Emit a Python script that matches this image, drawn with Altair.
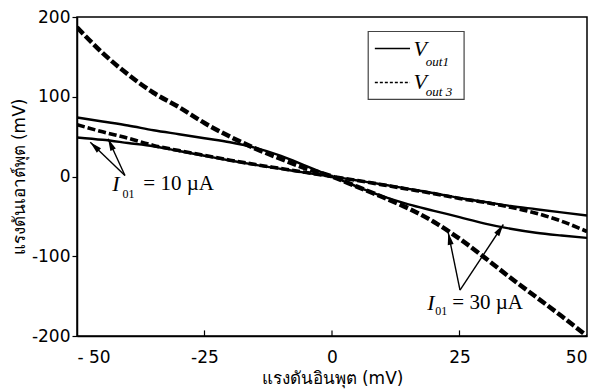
import math
import altair as alt
import pandas as pd

# ---- data ----
vin = [-50, -45, -40, -35, -30, -25, -20, -15, -10, -5, 0, 5, 10, 15, 20, 25, 30, 35, 40, 45, 50]
vout1_10 = [49, 46, 42, 38, 32, 26, 20, 14.5, 9.5, 4.5, 0, -5, -10, -15.5, -21, -27, -32, -37, -41, -45, -49]
vout3_10 = [65, 56, 48, 39, 32.5, 26.5, 20.5, 15, 10, 5, 0, -5, -10.5, -16, -21.5, -27.5, -32.5, -38.5, -46, -56, -69]
vout1_30 = [74, 69, 64, 58, 53, 48, 43, 36, 26, 13, 0, -13, -25, -35, -43, -51, -59, -65.5, -70.5, -74, -77]
vout3_30 = [187, 155, 128, 105, 87, 67, 50, 35, 22, 10, 0, -13, -26, -40, -57, -78, -102, -127, -151, -175, -200]

x_ticks = [-50, -25, 0, 25, 50]
y_ticks = [-200, -100, 0, 100, 200]
x_title = "แรงดันอินพุต (mV)"
y_title = "แรงดันเอาต์พุต (mV)"

# annotation anchors (data units)
arrow_apex_10 = (-40.6, 1.2)
arrow_tips_10 = [(-47.4, 43.0), (-43.9, 47.3)]
arrow_apex_30 = (25.1, -142.6)
arrow_tips_30 = [(22.8, -70.6), (33.6, -60.2)]

W, H = 510, 319
XD, YD = [-50, 50], [-200, 200]
px_x = W / (XD[1] - XD[0])
px_y = H / (YD[1] - YD[0])

rows = []
for name, ys in [("v1_10", vout1_10), ("v3_10", vout3_10), ("v1_30", vout1_30), ("v3_30", vout3_30)]:
    for xv, yv in zip(vin, ys):
        rows.append({"x": xv, "y": yv, "s": name})
df = pd.DataFrame(rows)

FONT = "DejaVu Sans"
xs = alt.Scale(domain=XD, nice=False, zero=False)
ys_ = alt.Scale(domain=YD, nice=False, zero=False)
xaxis = alt.Axis(values=x_ticks, title=x_title, grid=False, ticks=False, labelPadding=13,
                 labelFlush=True,
                 labelExpr="datum.value == -50 ? '- 50' : replace(datum.label, '\u2212', '-')",
                 labelFont=FONT, labelFontSize=17, labelColor="black",
                 titleFont=FONT, titleFontSize=17, titleColor="black", titleFontWeight="normal",
                 domainColor="black", domainWidth=1.5,
                 titleY=42, titleBaseline="middle")
yaxis = alt.Axis(values=y_ticks, title=y_title, grid=False, tickSize=5, labelPadding=2,
                 tickColor="black", tickWidth=1.2,
                 labelExpr="replace(datum.label, '\u2212', '-')",
                 labelFont=FONT, labelFontSize=17, labelColor="black",
                 titleFont=FONT, titleFontSize=17, titleColor="black", titleFontWeight="normal",
                 domainColor="black", domainWidth=1.5,
                 titleX=-58, titleBaseline="middle")
X = alt.X("x:Q", scale=xs, axis=xaxis)
Y = alt.Y("y:Q", scale=ys_, axis=yaxis)

base = alt.Chart(df)


def line(series, width, dash=None):
    kw = dict(color="black", strokeWidth=width, clip=True, interpolate="monotone")
    if dash:
        kw["strokeDash"] = dash
    return base.transform_filter(alt.datum.s == series).mark_line(**kw).encode(x=X, y=Y)


layers = [
    line("v1_10", 2.4),
    line("v3_10", 3.6, [8, 3]),
    line("v1_30", 2.4),
    line("v3_30", 4.5, [9, 3]),
]

# inside x ticks
tick_df = pd.DataFrame({"x": [-25, 0, 25], "y": [-200] * 3, "y2": [-193] * 3})
layers.append(alt.Chart(tick_df).mark_rule(color="black", strokeWidth=1.2).encode(
    x=X, y=Y, y2="y2:Q"))

# arrows
shaft_rows, head_rows = [], []
for apex, tips in [(arrow_apex_10, arrow_tips_10), (arrow_apex_30, arrow_tips_30)]:
    for tip in tips:
        shaft_rows.append({"x": apex[0], "y": apex[1], "x2": tip[0], "y2": tip[1]})
        sx = (tip[0] - apex[0]) * px_x
        sy = -(tip[1] - apex[1]) * px_y
        ang = math.degrees(math.atan2(sx, -sy)) % 360
        head_rows.append({"x": tip[0], "y": tip[1], "a": ang})
layers.append(alt.Chart(pd.DataFrame(shaft_rows)).mark_rule(color="black", strokeWidth=1.4).encode(
    x=X, y=Y, x2="x2:Q", y2="y2:Q"))
layers.append(alt.Chart(pd.DataFrame(head_rows)).mark_point(
    shape="M0,0L0.6,2.4L-0.6,2.4Z", filled=True, color="black", size=100, opacity=1).encode(
    x=X, y=Y, angle=alt.Angle("a:Q", scale=None)))


def txt(rows_, size, style="normal", align="center"):
    return alt.Chart(pd.DataFrame(rows_)).mark_text(
        font="Liberation Serif", fontSize=size, fontStyle=style, align=align,
        baseline="middle", color="black").encode(x=X, y=Y, text="t:N")


layers.append(txt([{"x": -42.35, "y": -10, "t": "I"}, {"x": 19.4, "y": -158, "t": "I"}], 22, "italic"))
layers.append(txt([{"x": -39.9, "y": -22, "t": "01"}, {"x": 21.4, "y": -169, "t": "01"}], 12))
layers.append(txt([{"x": -37.0, "y": -10, "t": "= 10 µA"}, {"x": 23.6, "y": -158, "t": "= 30 µA"}], 21, align="left"))

# legend box
box = pd.DataFrame({"x": [7.1], "x2": [25.9], "y": [181.8], "y2": [96.6]})
layers.append(alt.Chart(box).mark_rect(fill="white", stroke="#444", strokeWidth=1.2).encode(
    x=X, y=Y, x2="x2:Q", y2="y2:Q"))
leg_solid = pd.DataFrame({"x": [8.4], "x2": [15.3], "y": [160.5]})
leg_dash = pd.DataFrame({"x": [8.4], "x2": [15.3], "y": [117.9]})
layers.append(alt.Chart(leg_solid).mark_rule(color="black", strokeWidth=1.5).encode(x=X, x2="x2:Q", y=Y))
layers.append(alt.Chart(leg_dash).mark_rule(color="black", strokeWidth=1.5, strokeDash=[3, 2]).encode(
    x=X, x2="x2:Q", y=Y))
layers.append(txt([{"x": 17.3, "y": 159.3, "t": "V"}, {"x": 17.3, "y": 119, "t": "V"}], 22, "italic"))
layers.append(txt([{"x": 18.4, "y": 143, "t": "out1"}, {"x": 18.4, "y": 105.5, "t": "out 3"}], 13, "italic", align="left"))

chart = alt.layer(*layers).properties(
    width=W, height=H,
    padding={"left": 77, "top": 17, "right": 12, "bottom": 54},
    autosize=alt.AutoSizeParams(type="none"),
    background="white",
).configure_view(stroke="black", strokeWidth=1.5)

chart.save("out.html", embed_options={"renderer": "svg", "actions": False})
